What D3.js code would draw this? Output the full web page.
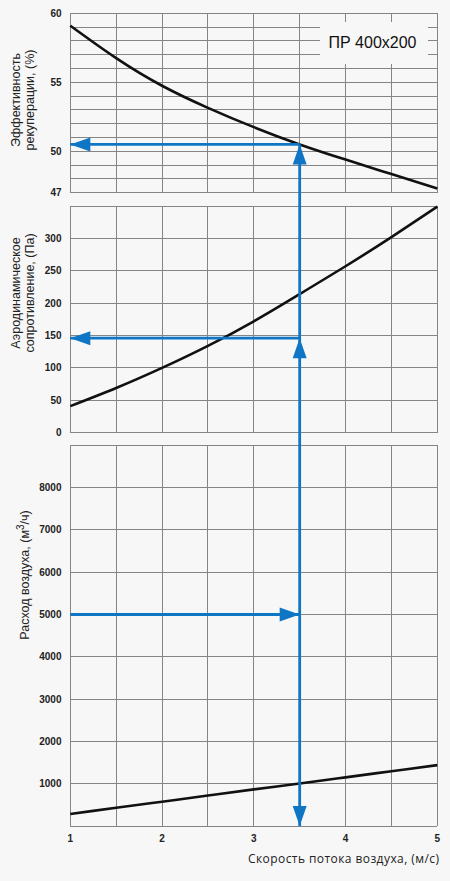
<!DOCTYPE html>
<html>
<head>
<meta charset="utf-8">
<script src="https://cdn.jsdelivr.net/npm/d3@7"></script>
<style>
  body { margin: 0; background: #f7f7f7; }
  svg { display: block; }
  .grid line { stroke: #858585; stroke-width: 1; shape-rendering: crispEdges; }
  .tick-label { font-family: "Liberation Sans", Arial, sans-serif; font-weight: bold; font-size: 10px; fill: #222; }
  .title { font-family: "Liberation Sans", Arial, sans-serif; font-size: 12.5px; fill: #222; }
</style>
</head>
<body>
<svg id="chart"></svg>
<script>
// velocity, m/s
let velocity = [1, 1.5, 2, 2.5, 3, 3.5, 4, 4.5, 5]
// recuperation efficiency, %
let efficiency = [59.1, 56.75, 54.75, 53.15, 51.75, 50.5, 49.4, 48.35, 47.3]
// aerodynamic resistance, Pa
let pressure = [41, 69, 100, 134, 172, 214, 257, 302, 349]
// air flow, m3/h
let airflow = [285, 430, 575, 720, 865, 1005, 1150, 1295, 1440]

// reading example
let pickVelocity = 3.5
let pickEfficiency = 50.5
let pickPressure = 146
let pickAirflow = 5000

let xTicks = [1, 2, 3, 4, 5]
let effTicks = [47, 50, 55, 60]
let presTicks = [0, 50, 100, 150, 200, 250, 300]
let flowTicks = [1000, 2000, 3000, 4000, 5000, 6000, 7000, 8000]

let width = 450
let height = 881
let blue = '#0f76c6'

let svg = d3.select('#chart')
svg.attr('width', width).attr('height', height)

let xScale = d3.scaleLinear().domain([1, 5]).range([70.3, 437.3])

let panels = [
  { y: d3.scaleLinear().domain([47, 60]).range([192.7, 13.3]), step: 1, ticks: effTicks, values: efficiency },
  { y: d3.scaleLinear().domain([0, 350]).range([432.7, 206]), step: 50, ticks: presTicks, values: pressure },
  { y: d3.scaleLinear().domain([0, 9000]).range([826, 445.3]), step: 1000, ticks: flowTicks, values: airflow }
]

let drawPanel = (p) => {
  let g = svg.append('g').attr('class', 'grid')
  let [y0, y1] = p.y.domain()
  let vx = d3.range(1, 5.001, 0.5)
  g.selectAll('line.v').data(vx).enter().append('line')
    .attr('x1', (d) => xScale(d)).attr('x2', (d) => xScale(d))
    .attr('y1', p.y(y0)).attr('y2', p.y(y1))
  let hy = d3.range(y0, y1 + 0.001, p.step)
  if (hy[hy.length - 1] !== y1) hy.push(y1)
  g.selectAll('line.h').data(hy).enter().append('line')
    .attr('x1', xScale(1)).attr('x2', xScale(5))
    .attr('y1', (d) => p.y(d)).attr('y2', (d) => p.y(d))

  svg.append('g').selectAll('text').data(p.ticks).enter().append('text')
    .attr('class', 'tick-label')
    .attr('x', 61.5)
    .attr('y', (d) => p.y(d) + 3.5)
    .attr('text-anchor', 'end')
    .text((d) => d)
}

panels.forEach(drawPanel)

// model label box
svg.append('rect')
  .attr('x', 320).attr('y', 22).attr('width', 108).attr('height', 42)
  .attr('fill', '#f7f7f7')
svg.append('text')
  .attr('x', 372.5).attr('y', 47.5)
  .attr('text-anchor', 'middle')
  .style('font-family', '"Liberation Sans", Arial, sans-serif')
  .style('font-size', '16px')
  .style('fill', '#111')
  .text('ПР 400x200')

// curves
panels.forEach((p) => {
  let line = d3.line()
    .x((d, i) => xScale(velocity[i]))
    .y((d) => p.y(d))
    .curve(d3.curveNatural)
  svg.append('path')
    .attr('d', line(p.values))
    .attr('fill', 'none')
    .attr('stroke', '#111')
    .attr('stroke-width', 2.6)
})

// blue reading lines
let [effY, presY, flowY] = panels.map((p) => p.y)
let px = xScale(pickVelocity)
let guides = [
  [px, flowY(0), px, effY(pickEfficiency)],
  [xScale(1), effY(pickEfficiency), px, effY(pickEfficiency)],
  [xScale(1), presY(pickPressure), px, presY(pickPressure)],
  [xScale(1), flowY(pickAirflow), px, flowY(pickAirflow)]
]
svg.append('g').selectAll('line').data(guides).enter().append('line')
  .attr('x1', (d) => d[0]).attr('y1', (d) => d[1])
  .attr('x2', (d) => d[2]).attr('y2', (d) => d[3])
  .attr('stroke', blue)
  .attr('stroke-width', 2.8)

// arrowheads: tip point and direction
let arrows = [
  { x: px, y: effY(pickEfficiency), dir: 'up' },
  { x: px, y: presY(pickPressure), dir: 'up' },
  { x: px, y: flowY(0), dir: 'down' },
  { x: xScale(1), y: effY(pickEfficiency), dir: 'left' },
  { x: xScale(1), y: presY(pickPressure), dir: 'left' },
  { x: px, y: flowY(pickAirflow), dir: 'right' }
]
let len = 20
let half = 7
let arrowPath = (a) => {
  let pts
  if (a.dir === 'up') pts = [[0, 0], [-half, len], [half, len]]
  if (a.dir === 'down') pts = [[0, 0], [-half, -len], [half, -len]]
  if (a.dir === 'left') pts = [[0, 0], [len, -half], [len, half]]
  if (a.dir === 'right') pts = [[0, 0], [-len, -half], [-len, half]]
  return 'M' + pts.map((p) => (a.x + p[0]) + ',' + (a.y + p[1])).join('L') + 'Z'
}
svg.append('g').selectAll('path').data(arrows).enter().append('path')
  .attr('d', arrowPath)
  .attr('fill', blue)

// x tick labels
svg.append('g').selectAll('text').data(xTicks).enter().append('text')
  .attr('class', 'tick-label')
  .attr('x', (d) => xScale(d))
  .attr('y', 842)
  .attr('text-anchor', 'middle')
  .text((d) => d)

svg.append('text')
  .attr('x', 439).attr('y', 863)
  .attr('text-anchor', 'end')
  .style('font-family', '"Open Sans", sans-serif')
  .style('font-size', '12px')
  .style('fill', '#222')
  .attr('textLength', 191)
  .text('Скорость потока воздуха, (м/с)')

// y titles
let yTitle = (lines, cy) => {
  lines.forEach((t) => {
    svg.append('text')
      .attr('class', 'title')
      .attr('transform', 'translate(' + t.x + ',' + cy + ') rotate(-90)')
      .attr('text-anchor', 'middle')
      .text(t.text)
  })
}
yTitle([{ x: 20, text: 'Эффективность' }, { x: 33.5, text: 'рекуперации, (%)' }], 100)
yTitle([{ x: 20, text: 'Аэродинамическое' }, { x: 33.5, text: 'сопротивление, (Па)' }], 293)

let flowTitle = svg.append('text')
  .attr('class', 'title')
  .attr('transform', 'translate(28.5,575) rotate(-90)')
  .attr('text-anchor', 'middle')
flowTitle.append('tspan').text('Расход воздуха, (м')
flowTitle.append('tspan').attr('dy', -5).style('font-size', '10px').text('3')
flowTitle.append('tspan').attr('dy', 5).text('/ч)')
</script>
</body>
</html>
